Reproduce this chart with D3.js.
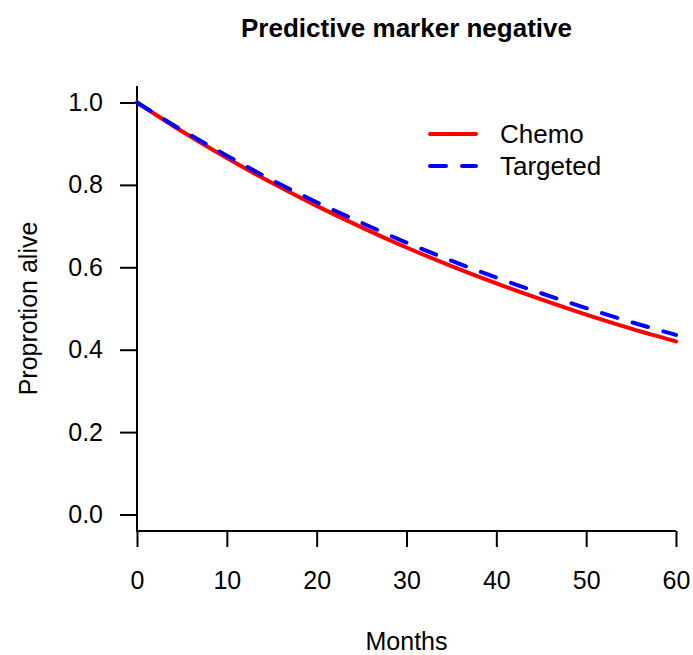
<!DOCTYPE html>
<html>
<head>
<meta charset="utf-8">
<script src="https://cdn.jsdelivr.net/npm/d3@7"></script>
<style>
  body { margin: 0; background: #fff; }
  svg { display: block; font-family: "Liberation Sans", Arial, sans-serif; }
</style>
</head>
<body>
<div id="chart"></div>
<script>
'use strict';

// months on the x axis, every 5 months
var months = [0, 5, 10, 15, 20, 25, 30, 35, 40, 45, 50, 55, 60];
var chemo = [1.000, 0.930, 0.865, 0.805, 0.749, 0.697, 0.648, 0.603, 0.561, 0.522, 0.485, 0.451, 0.420];
var targeted = [1.000, 0.933, 0.871, 0.812, 0.758, 0.708, 0.660, 0.616, 0.575, 0.537, 0.501, 0.467, 0.436];
var xTicks = [0, 10, 20, 30, 40, 50, 60];
var yTicks = [0, 0.2, 0.4, 0.6, 0.8, 1.0];
var seriesNames = ['Chemo', 'Targeted'];

var width = 693;
var height = 655;
var margin = { top: 86, right: 17, bottom: 124, left: 137 };
var plotW = width - margin.left - margin.right;
var plotH = height - margin.top - margin.bottom;
var fontSize = 25;

var svg = d3.select('#chart').append('svg')
  .attr('width', width)
  .attr('height', height);

var x = d3.scaleLinear().domain([0, 60]).range([0, plotW]);
// R pads the y range by 4% on each side
var y = d3.scaleLinear().domain([-0.04, 1.04]).range([plotH, 0]);

var g = svg.append('g').attr('transform', 'translate(' + margin.left + ',' + margin.top + ')');

// x axis
var xAxis = g.append('g')
  .attr('transform', 'translate(0,' + plotH + ')')
  .call(d3.axisBottom(x).tickValues(xTicks).tickSize(16).tickPadding(24).tickFormat(d3.format('d')));

// y axis
var yAxis = g.append('g')
  .call(d3.axisLeft(y).tickValues(yTicks).tickSize(17).tickPadding(17).tickFormat(d3.format('.1f')));

[xAxis, yAxis].forEach(function (ax) {
  ax.select('.domain').remove();
  ax.selectAll('line').attr('stroke', '#000').attr('stroke-width', 2);
  ax.selectAll('text').attr('font-size', fontSize).attr('fill', '#000')
    .attr('font-family', '"Liberation Sans", Arial, sans-serif');
});

// L-shaped box
g.append('path')
  .attr('d', 'M0,0V' + plotH + 'H' + plotW)
  .attr('fill', 'none')
  .attr('stroke', '#000')
  .attr('stroke-width', 2);

var line = d3.line()
  .x(function (d) { return x(d[0]); })
  .y(function (d) { return y(d[1]); })
  .curve(d3.curveMonotoneX);

g.append('path')
  .datum(d3.zip(months, chemo))
  .attr('d', line)
  .attr('fill', 'none')
  .attr('stroke', '#ff0000')
  .attr('stroke-width', 4)
  .attr('stroke-linecap', 'round');

g.append('path')
  .datum(d3.zip(months, targeted))
  .attr('d', line)
  .attr('fill', 'none')
  .attr('stroke', '#0000ff')
  .attr('stroke-width', 4)
  .attr('stroke-linecap', 'round')
  .attr('stroke-dasharray', '16,16');

// legend
var legend = svg.append('g').attr('transform', 'translate(430,134)');
var legendStyles = [
  { color: '#ff0000', dash: null },
  { color: '#0000ff', dash: '16,16' }
];
seriesNames.forEach(function (name, i) {
  var row = legend.append('g').attr('transform', 'translate(0,' + i * 32 + ')');
  row.append('line')
    .attr('x1', 0).attr('x2', 46)
    .attr('stroke', legendStyles[i].color)
    .attr('stroke-width', 4)
    .attr('stroke-linecap', 'round')
    .attr('stroke-dasharray', legendStyles[i].dash);
  row.append('text')
    .attr('x', 70)
    .attr('dy', '0.35em')
    .attr('font-size', 26)
    .text(name);
});

// title and axis labels
svg.append('text')
  .attr('x', margin.left + plotW / 2)
  .attr('y', 37)
  .attr('text-anchor', 'middle')
  .attr('font-size', 26)
  .attr('font-weight', 'bold')
  .text('Predictive marker negative');

svg.append('text')
  .attr('x', margin.left + plotW / 2)
  .attr('y', 650)
  .attr('text-anchor', 'middle')
  .attr('font-size', fontSize)
  .text('Months');

svg.append('text')
  .attr('transform', 'translate(37,' + (margin.top + plotH / 2) + ') rotate(-90)')
  .attr('text-anchor', 'middle')
  .attr('font-size', fontSize)
  .text('Proprotion alive');
</script>
</body>
</html>
